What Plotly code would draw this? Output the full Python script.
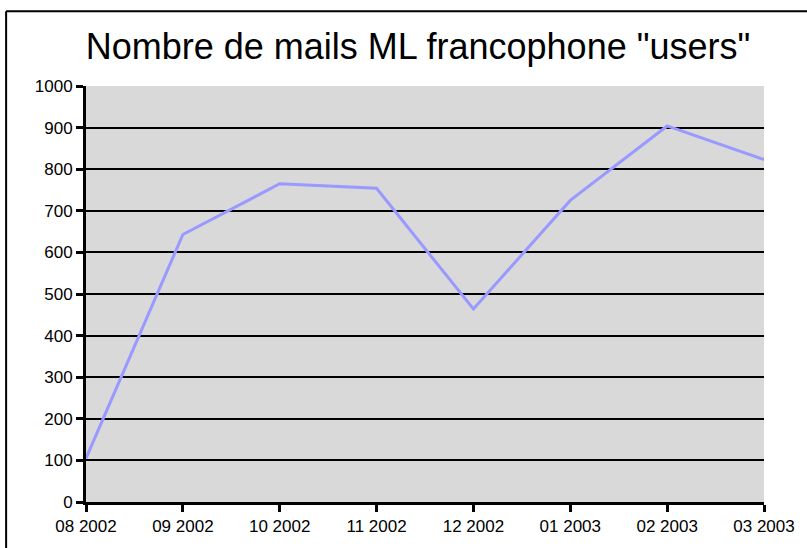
import plotly.graph_objects as go

months = ["08 2002", "09 2002", "10 2002", "11 2002", "12 2002", "01 2003", "02 2003", "03 2003"]
mails = [105, 643, 765, 754, 464, 725, 904, 823]
y_ticks = [0, 100, 200, 300, 400, 500, 600, 700, 800, 900, 1000]

W, H = 807, 548
L, R, T, B = 86, 42, 86, 44
pw, ph = W - L - R, H - T - B

def px_x(p):
    return (p - L) / pw

def px_y(p):
    return 1 - (p - T) / ph

fig = go.Figure()
fig.add_trace(go.Scatter(
    x=list(range(len(months))), y=mails, mode="lines",
    line=dict(color="#9999ff", width=3), hoverinfo="skip", showlegend=False,
))

fig.update_layout(
    width=W, height=H,
    margin=dict(l=L, r=R, t=T, b=B),
    paper_bgcolor="white",
    plot_bgcolor="#d9d9d9",
    font=dict(family="Liberation Sans, Arial, sans-serif", color="black", size=17),
    title=dict(text='Nombre de mails ML francophone "users"', x=0.518, xanchor="center",
               y=1 - 46 / H, yanchor="middle", font=dict(size=36)),
    xaxis=dict(range=[0, len(months) - 1], tickvals=list(range(len(months))), ticktext=months,
               showgrid=False, zeroline=False, showline=True, linecolor="black", linewidth=3,
               ticks="outside", tickcolor="black", tickwidth=3, ticklen=7, fixedrange=True),
    yaxis=dict(range=[0, 1000], tickvals=y_ticks, showgrid=True, gridcolor="black", gridwidth=2,
               zeroline=False, showline=True, linecolor="black", linewidth=3,
               ticks="outside", tickcolor="black", tickwidth=3, ticklen=7, fixedrange=True),
    shapes=[
        dict(type="line", xref="paper", yref="paper", x0=px_x(6), x1=px_x(810), y0=px_y(11), y1=px_y(11),
             line=dict(color="black", width=2)),
        dict(type="line", xref="paper", yref="paper", x0=px_x(6), x1=px_x(6), y0=px_y(11), y1=px_y(560),
             line=dict(color="black", width=2)),
    ],
)

fig.write_html("out.html", config={"displayModeBar": False},
               post_script="document.body.style.margin='0';document.body.style.overflow='hidden';")
